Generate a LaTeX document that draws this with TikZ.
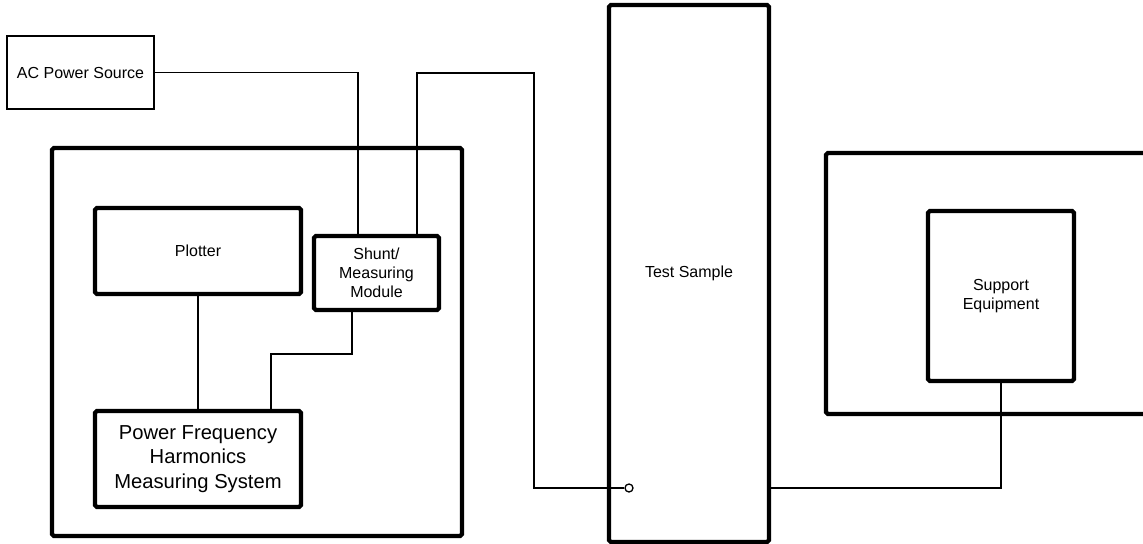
\documentclass[tikz,border=0pt]{standalone}
\usepackage{fontspec}
\setmainfont{Liberation Sans}
\usepackage{tikz}
\usetikzlibrary{positioning, calc}
\tikzset{
	unit/.style    ={rectangle, rounded corners=1pt, draw=black, line width=2.4pt, text centered, align=center, inner sep=2pt, font=\fontsize{9.1}{10.9}\selectfont},
	source/.style  ={rectangle, draw=black, line width=0.8pt, text centered, align=center, font=\fontsize{9.1}{10.9}\selectfont},
	bigtext/.style ={font=\fontsize{11.5}{13.9}\selectfont},
	wire/.style    ={line width=0.75pt},
	probe/.style   ={circle, draw=black, line width=0.75pt, fill=white, inner sep=0pt, minimum size=0.16cm},
}

\begin{document}
\begin{tikzpicture}[x=0.02cm, y=-0.02cm]
	\clip (0,0) rectangle (1143,544);
	\useasboundingbox (0,0) rectangle (1143,544);
	% frames
	\node[unit] (rack) at (257,342) [minimum width=8.2cm, minimum height=7.76cm] {};
	\node[unit] (bench) at (1003,283.5) [minimum width=7.08cm, minimum height=5.22cm] {};
	% boxes
	\node[source] (ac) at (80.5,72.5) [minimum width=2.94cm, minimum height=1.46cm] {AC Power Source};
	\node[unit] (plot) at (198,251) [minimum width=4.12cm, minimum height=1.72cm] {Plotter};
	\node[unit] (shunt) at (376.5,273) [minimum width=2.5cm, minimum height=1.48cm] {Shunt/\\Measuring\\Module};
	\node[unit, bigtext] (pfhms) at (198,459) [minimum width=4.12cm, minimum height=1.92cm] {Power Frequency\\Harmonics\\Measuring System};
	\node[unit] (dut) at (689,273.5) [minimum width=3.2cm, minimum height=10.74cm] {Test Sample};
	\node[unit] (supp) at (1001,296) [minimum width=2.92cm, minimum height=3.4cm] {Support\\Equipment};
	\node[probe] (tap) at (629,488) {};
	% wiring
	\draw[wire] (ac.east) -| ([xshift=-0.37cm]shunt.north);
	\draw[wire] ([xshift=0.81cm]shunt.north) |- (534,73) |- (tap);
	\draw[wire] (plot.south) -- (pfhms.north);
	\draw[wire] ([xshift=-0.49cm]shunt.south) -- ++(0,42) -| ([xshift=1.46cm]pfhms.north);
	\draw[wire] (tap -| dut.east) -| (supp.south);
\end{tikzpicture}
\end{document}
